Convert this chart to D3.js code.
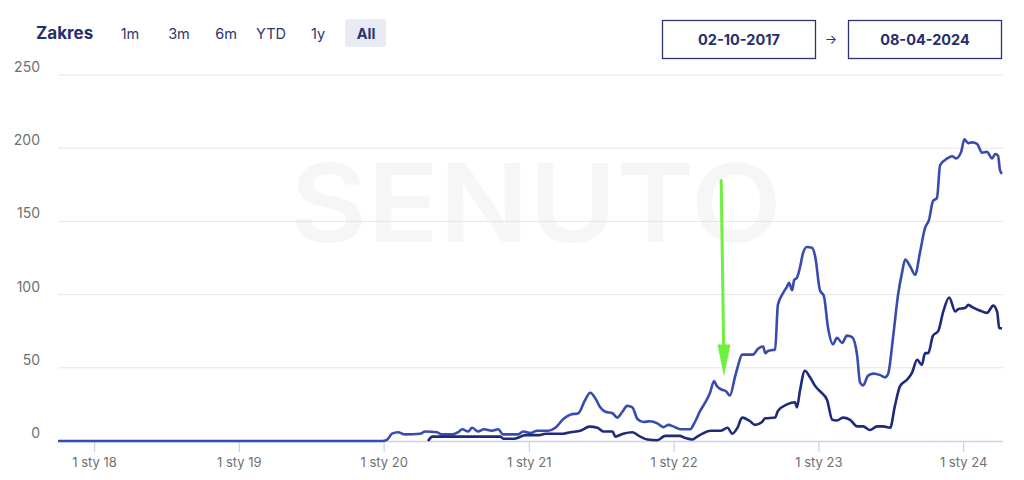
<!DOCTYPE html>
<html><head><meta charset="utf-8">
<script src="https://cdn.jsdelivr.net/npm/d3@7"></script>
<style>
body{margin:0;background:#fff;}
svg{display:block;font-family:Inter,"Open Sans",sans-serif;}
</style></head>
<body><svg id="c" width="1024" height="480"></svg>
<script>
// ---- data ----
const rangeButtons = ["1m","3m","6m","YTD","1y","All"];
const dateFrom = "02-10-2017";
const dateTo = "08-04-2024";
const yTicks = [0,50,100,150,200,250];
const xTickYears = [2018,2019,2020,2021,2022,2023,2024];
const xTickLabel = y => "1 sty " + String(y).slice(2);

const lightDates = ["2017-10-02","2019-12-28","2020-01-10","2020-01-22","2020-02-06","2020-02-24","2020-04-02","2020-04-15","2020-05-15","2020-05-25","2020-06-22","2020-07-07","2020-07-17","2020-08-01","2020-08-11","2020-08-26","2020-09-10","2020-09-30","2020-10-16","2020-10-28","2020-12-05","2020-12-18","2021-01-05","2021-01-22","2021-02-19","2021-03-09","2021-03-29","2021-04-16","2021-05-06","2021-05-23","2021-06-05","2021-06-18","2021-06-30","2021-07-13","2021-07-31","2021-08-12","2021-08-25","2021-09-06","2021-09-19","2021-10-02","2021-10-17","2021-11-03","2021-11-21","2021-12-06","2021-12-19","2021-12-31","2022-01-18","2022-02-12","2022-02-22","2022-03-09","2022-03-21","2022-04-03","2022-04-13","2022-04-20","2022-05-03","2022-05-13","2022-05-23","2022-06-05","2022-06-12","2022-06-23","2022-07-20","2022-08-02","2022-08-15","2022-08-20","2022-08-27","2022-09-14","2022-09-21","2022-10-04","2022-10-14","2022-10-19","2022-10-27","2022-11-01","2022-11-08","2022-11-16","2022-11-23","2022-12-03","2022-12-16","2022-12-24","2023-01-05","2023-01-15","2023-01-25","2023-02-07","2023-02-17","2023-03-02","2023-03-14","2023-03-27","2023-04-09","2023-04-16","2023-04-24","2023-05-06","2023-05-19","2023-06-06","2023-06-18","2023-06-26","2023-07-08","2023-07-21","2023-07-31","2023-08-08","2023-08-20","2023-09-02","2023-09-14","2023-09-27","2023-10-07","2023-10-17","2023-10-27","2023-11-04","2023-11-22","2023-12-04","2023-12-14","2023-12-27","2024-01-04","2024-01-14","2024-01-24","2024-02-05","2024-02-18","2024-03-01","2024-03-14","2024-03-22","2024-03-29","2024-04-03","2024-04-08"];
const lightValues = [0,0,1,5,6,4.5,5,6.5,6,4.5,4.5,6,8,6.5,9,6.5,8,7,8,4.5,4.5,6.5,5.5,7,7,9,15,18,19,28,33,29,23,20,19,16,20,24,23,15,13,13.5,12,9.5,11,10,8,8,12,20.5,26,33,41,37.5,35,34,31,44,51,59,59,63,64.5,60,61.5,62.5,93,101,105.5,108,103,110,111.5,119,128,132.5,132,126,103,99,78,66,70.5,67,72,71,58,40,38,44.5,46,45,43.5,46,70,100,115,124,119.5,113.5,128.5,145.5,151,164,166,188.5,193,194.5,193,197.5,206,203.5,204,203,197,197.5,193,196,195,185,182.5];

const darkDates = ["2020-04-22","2020-05-03","2020-10-21","2020-10-29","2020-11-23","2020-12-03","2020-12-23","2021-01-27","2021-02-12","2021-03-29","2021-04-16","2021-05-11","2021-06-03","2021-06-23","2021-07-08","2021-07-31","2021-08-07","2021-08-27","2021-09-19","2021-10-09","2021-10-27","2021-11-21","2021-12-11","2022-01-16","2022-01-31","2022-02-17","2022-02-27","2022-03-15","2022-04-04","2022-04-29","2022-05-17","2022-05-29","2022-06-11","2022-06-23","2022-07-13","2022-07-25","2022-08-12","2022-08-20","2022-09-14","2022-09-21","2022-10-14","2022-11-03","2022-11-08","2022-11-16","2022-11-28","2022-12-11","2022-12-24","2023-01-05","2023-01-23","2023-02-05","2023-02-17","2023-03-04","2023-03-22","2023-04-09","2023-04-24","2023-05-11","2023-05-29","2023-06-13","2023-07-01","2023-07-13","2023-07-26","2023-08-13","2023-08-25","2023-09-07","2023-09-19","2023-09-27","2023-10-05","2023-10-17","2023-10-30","2023-11-12","2023-11-27","2023-12-12","2023-12-19","2024-01-07","2024-01-14","2024-01-24","2024-02-13","2024-03-01","2024-03-17","2024-03-27","2024-04-01","2024-04-08"];
const darkValues = [0,3,3,1.5,1.5,2,4,4,5,5,6,7,9.8,9,6.5,6.5,3,5,6,3,1,0.5,3.5,3.5,2,1,2.5,5,7,7,9,5,9,16,13.5,11,13,15.5,16,20.5,25,26.5,23,35,48,43.5,37.5,34,28,14.5,14,16,14.5,10,10,7.5,10,10,9,24,37.5,42,46.5,55.5,52,60,60,72,75,88.5,98,88.5,90,91,93,91.5,89,87.5,92.5,88,77,77];

// annotation arrow (date, value from -> to)
const arrowDates = ["2022-05-01","2022-05-08"];
const arrowValues = [178, 44];

// ---- drawing ----
const parse = d3.timeParse("%Y-%m-%d");
const svg = d3.select("#c");
const x = d3.scaleTime().domain([parse("2017-10-02"), parse("2024-04-08")]).range([58, 1002]);
const y = d3.scaleLinear().domain([0,250]).range([441,75]);

// watermark
svg.append("text").attr("x",290).attr("y",242).attr("textLength",492).attr("lengthAdjust","spacingAndGlyphs")
  .attr("font-size",108).attr("font-weight",600).attr("fill","#f6f6f6").text("SENUTO");

// gridlines
svg.append("g").selectAll("line").data(yTicks.filter(d=>d>0)).join("line")
  .attr("x1",58).attr("x2",1003).attr("y1",d=>y(d)).attr("y2",d=>y(d))
  .attr("stroke","#e6e6e6").attr("stroke-width",1);

// y labels
svg.append("g").selectAll("text").data(yTicks).join("text")
  .attr("x",40).attr("y",d=>y(d)-3).attr("text-anchor","end")
  .attr("font-size",14).attr("fill","#707070").text(d=>d);

// x axis
const xAxis = d3.axisBottom(x)
  .tickValues(xTickYears.map(yr=>new Date(yr,0,1)))
  .tickFormat(d=>xTickLabel(d.getFullYear()))
  .tickSize(11).tickPadding(6).tickSizeOuter(0);
const gx = svg.append("g").attr("transform","translate(0,441)").call(xAxis);
gx.select(".domain").attr("stroke","#c9cfee").attr("stroke-width",1.5).attr("d","M58,0.5H1003");
gx.selectAll(".tick line").attr("stroke","#c9cfee").attr("stroke-width",1.2);
gx.selectAll(".tick text").attr("font-size",13).attr("fill","#707070").attr("font-family","Inter,'Open Sans',sans-serif");

// lines
const line = d3.line().x(d=>x(d.date)).y(d=>y(d.v)).curve(d3.curveMonotoneX);
const light = lightDates.map((d,i)=>({date:parse(d),v:lightValues[i]}));
const dark = darkDates.map((d,i)=>({date:parse(d),v:darkValues[i]}));
svg.append("path").datum(light).attr("d",line).attr("fill","none")
  .attr("stroke","#3a4bb0").attr("stroke-width",2.6).attr("stroke-linejoin","round");
svg.append("path").datum(dark).attr("d",line).attr("fill","none")
  .attr("stroke","#1e2a7a").attr("stroke-width",2.6).attr("stroke-linejoin","round");

// green arrow
const ax1 = x(parse(arrowDates[0])), ax2 = x(parse(arrowDates[1]));
const ay1 = y(arrowValues[0]), ay2 = y(arrowValues[1]);
svg.append("line").attr("x1",ax1).attr("y1",ay1).attr("x2",ax2 - 0.3).attr("y2",ay2-30)
  .attr("stroke","#6ef03e").attr("stroke-width",3).attr("stroke-linecap","round");
svg.append("path").attr("d",`M${ax2-6.5},${ay2-32}L${ax2+6.5},${ay2-32}L${ax2},${ay2}Z`).attr("fill","#6ef03e");

// header
svg.append("text").attr("x",36).attr("y",39).attr("font-size",17).attr("font-weight",700)
  .attr("fill","#25306a").text("Zakres");
const btnX = [130,179,226,271,318,366];
svg.append("rect").attr("x",345).attr("y",19).attr("width",41).attr("height",28).attr("rx",3).attr("fill","#e8eaf6");
svg.append("g").selectAll("text").data(rangeButtons).join("text")
  .attr("x",(d,i)=>btnX[i]).attr("y",39).attr("text-anchor","middle")
  .attr("font-size",14.5).attr("font-weight",d=>d==="All"?700:400)
  .attr("fill","#2c3570").text(d=>d);

// date boxes
[[662,dateFrom],[848,dateTo]].forEach(([bx,t])=>{
  svg.append("rect").attr("x",bx+0.5).attr("y",20.5).attr("width",153).attr("height",38)
    .attr("fill","#fff").attr("stroke","#2c3570").attr("stroke-width",1.3);
  svg.append("text").attr("x",bx+77).attr("y",45).attr("text-anchor","middle")
    .attr("font-size",14.5).attr("font-weight",700).attr("fill","#25306a").text(t);
});
svg.append("text").attr("x",831).attr("y",44).attr("text-anchor","middle").attr("font-size",13)
  .attr("fill","#25306a").text("→");
</script></body></html>
